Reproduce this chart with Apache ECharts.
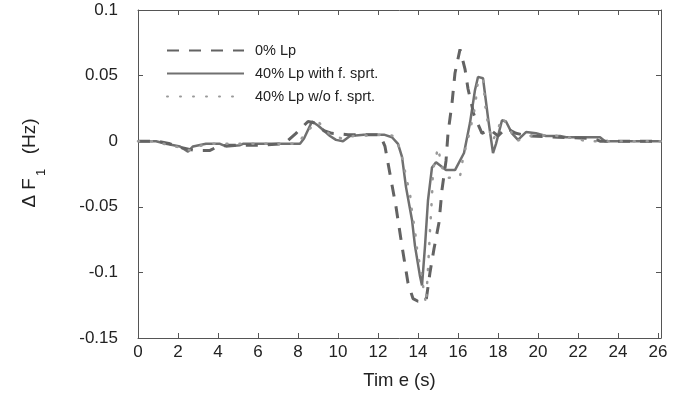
<!DOCTYPE html>
<html>
<head>
<meta charset="utf-8">
<script src="https://cdn.jsdelivr.net/npm/echarts@6/dist/echarts.min.js"></script>
<style>
    html, body { margin: 0; padding: 0; background: #fff; }
    #chart { width: 683px; height: 396px; }
</style>
</head>
<body>
<div id="chart"></div>
<script>
// [time (s), ΔF1 (Hz)]
const lp0 = [
    [0, 0], [1, 0], [1.6, -0.002], [2.2, -0.005], [2.8, -0.007], [3.6, -0.007], [4.0, -0.004],
    [4.5, -0.003], [6, -0.003], [7.3, -0.002], [7.9, 0.006], [8.5, 0.015], [8.8, 0.014],
    [9.3, 0.008], [9.7, 0.006], [10.5, 0.005], [12.1, 0.005], [12.35, -0.004], [12.6, -0.025],
    [12.9, -0.05], [13.2, -0.08], [13.5, -0.108], [13.75, -0.12], [14.0, -0.122], [14.4, -0.122],
    [14.6, -0.1], [14.8, -0.082], [15.05, -0.062], [15.2, -0.037], [15.4, -0.015], [15.5, 0.006],
    [15.7, 0.029], [15.85, 0.052], [16.1, 0.07], [16.35, 0.055], [16.5, 0.04], [16.8, 0.02],
    [17.2, 0.006], [17.6, 0.009], [18.0, 0.004], [18.4, 0.01], [18.9, 0.006], [19.5, 0.004],
    [21, 0.003], [22.8, 0.002], [23.1, 0], [26.15, 0]
];
const lp40With = [
    [0, 0], [0.9, 0], [1.4, -0.002], [2.1, -0.004], [2.5, -0.008], [2.75, -0.004], [3.4, -0.002],
    [4.1, -0.002], [4.4, -0.004], [5.1, -0.003], [5.25, -0.002], [8.1, -0.002], [8.3, 0.002],
    [8.7, 0.015], [9.0, 0.012], [9.3, 0.008], [9.6, 0.004], [9.9, 0.001], [10.25, 0], [10.6, 0.004],
    [11.3, 0.005], [12.3, 0.005], [12.7, 0.003], [13.0, -0.002], [13.2, -0.012], [13.4, -0.035],
    [13.7, -0.06], [13.85, -0.08], [14.1, -0.103], [14.2, -0.11], [14.35, -0.08], [14.5, -0.045],
    [14.7, -0.02], [14.9, -0.016], [15.4, -0.022], [15.85, -0.022], [16.3, -0.009], [16.6, 0.014],
    [16.85, 0.039], [17.0, 0.049], [17.25, 0.048], [17.5, 0.018], [17.75, -0.009], [17.9, -0.002],
    [18.2, 0.016], [18.4, 0.015], [18.7, 0.006], [19.0, 0.001], [19.4, 0.007], [19.9, 0.006],
    [20.4, 0.004], [21.1, 0.004], [21.4, 0.003], [23.1, 0.003], [23.35, 0], [26.15, 0]
];
const lp40Without = [
    [0, 0], [0.9, 0], [1.5, -0.003], [2.2, -0.005], [2.6, -0.007], [3.0, -0.004], [3.5, -0.002],
    [8.0, -0.002], [8.4, 0.007], [9.0, 0.015], [9.3, 0.01], [9.6, 0.005], [10.2, 0.002],
    [10.8, 0.004], [12.4, 0.005], [12.8, 0.004], [13.0, -0.002], [13.25, -0.015], [13.4, -0.027],
    [13.6, -0.04], [13.7, -0.054], [13.85, -0.068], [13.95, -0.082], [14.1, -0.095], [14.25, -0.11],
    [14.4, -0.124], [14.5, -0.097], [14.55, -0.083], [14.6, -0.068], [14.7, -0.042], [14.75, -0.022],
    [14.85, -0.015], [15.0, -0.005], [15.2, -0.02], [15.5, -0.028], [16.1, -0.027], [16.25, -0.013],
    [16.6, 0.008], [16.85, 0.026], [17.0, 0.046], [17.25, 0.048], [17.4, 0.021], [17.7, 0.0],
    [17.9, 0.005], [18.2, 0.018], [18.5, 0.012], [18.9, 0.0], [19.25, 0.002], [19.8, 0.005],
    [21.0, 0.004], [21.9, 0.002], [22.4, 0], [26.15, 0]
];
const seriesNames = ['0% Lp', '40% Lp with f. sprt.', '40% Lp w/o f. sprt.'];

const FRAME = '#555';
const TEXT = '#222';
const FONT = 'Liberation Sans, Arial, sans-serif';

function frameAxis(extra) {
    return Object.assign({
        axisLine: { show: true, onZero: false, lineStyle: { color: FRAME, width: 1 } },
        axisTick: { show: true, inside: true, length: 5, lineStyle: { color: FRAME } },
        splitLine: { show: false },
    }, extra);
}

const xScale = { type: 'value', min: 0, max: 26.15, interval: 2 };
const yScale = { type: 'value', min: -0.15, max: 0.1, interval: 0.05 };

const chart = echarts.init(document.getElementById('chart'));
chart.setOption({
    animation: false,
    backgroundColor: '#fff',
    textStyle: { fontFamily: FONT },
    grid: { left: 138, right: 22, top: 10, bottom: 58 },
    legend: {
        data: seriesNames,
        orient: 'vertical',
        left: 161,
        top: 38,
        itemWidth: 77,
        itemHeight: 14,
        itemGap: 8,
        // line only, no marker in the key
        itemStyle: { opacity: 0 },
        textStyle: { color: TEXT, fontSize: 14.5, fontFamily: FONT, padding: [0, 0, 0, 6] },
    },
    xAxis: [
        frameAxis(Object.assign({}, xScale, {
            position: 'bottom',
            name: 'Tim e (s)',
            nameLocation: 'middle',
            nameGap: 33,
            nameTextStyle: { color: TEXT, fontSize: 18.5 },
            axisLabel: {
                color: TEXT, fontSize: 17, margin: 6,
                formatter: (v) => (Math.abs(v % 2) < 1e-9 ? String(v) : ''),
            },
        })),
        frameAxis(Object.assign({}, xScale, { position: 'top', axisLabel: { show: false } })),
    ],
    yAxis: [
        frameAxis(Object.assign({}, yScale, {
            position: 'left',
            name: '{a|Δ F}{b|1}{a|  (Hz)}',
            nameLocation: 'middle',
            nameGap: 90,
            nameRotate: 90,
            nameTextStyle: {
                padding: [0, 0, 0, 22],
                rich: {
                    a: { color: TEXT, fontSize: 19, lineHeight: 36, verticalAlign: 'middle', fontFamily: FONT },
                    b: { color: TEXT, fontSize: 13, lineHeight: 36, verticalAlign: 'bottom', fontFamily: FONT, padding: [0, 4, 0, 2] },
                },
            },
            axisLabel: {
                color: TEXT, fontSize: 17, margin: 20,
                formatter: (v) => String(+v.toFixed(2)),
            },
        })),
        frameAxis(Object.assign({}, yScale, { position: 'right', axisLabel: { show: false } })),
    ],
    series: [
        {
            name: seriesNames[0], type: 'line', data: lp0, symbol: 'none', z: 3,
            lineStyle: { color: '#636363', width: 3, type: [12, 10] },
            itemStyle: { color: '#636363' },
        },
        {
            name: seriesNames[1], type: 'line', data: lp40With, symbol: 'none', z: 2,
            lineStyle: { color: '#707070', width: 2.5 },
            itemStyle: { color: '#707070' },
        },
        {
            name: seriesNames[2], type: 'line', data: lp40Without, symbol: 'none', z: 4,
            lineStyle: { color: '#9a9a9a', width: 2.5, type: [1, 12], cap: 'round' },
            itemStyle: { color: '#9a9a9a' },
        },
    ],
});
</script>
</body>
</html>
